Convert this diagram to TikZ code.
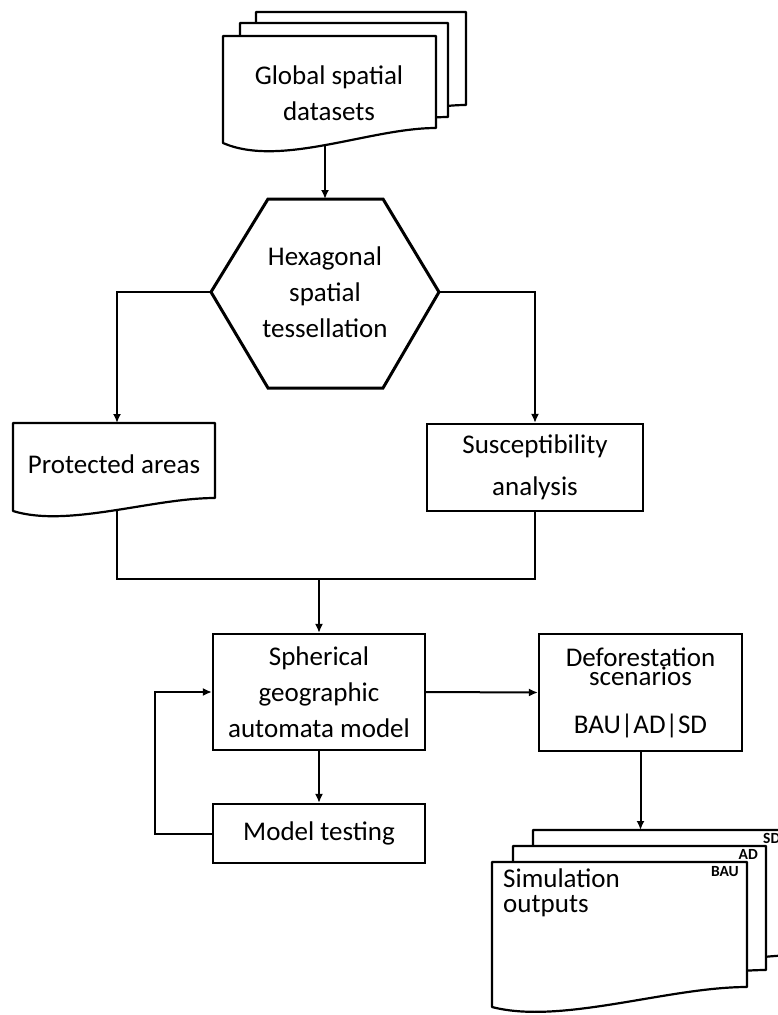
\documentclass[tikz,border=0pt]{standalone}
\usepackage{fontspec}
\setmainfont{Carlito}
\usetikzlibrary{arrows.meta,calc}

% wavy document outline: left, top, right, bottom-left, bottom-right, dip
\newcommand{\docshape}[6]{%
  \draw[docline] (#1,#2) -- (#3,#2) -- (#3,#5)
    .. controls ({#1+0.69*(#3-#1)},#5) and ({#1+0.27*(#3-#1)},{#4+#6}) .. (#1,#4) -- cycle;}

\begin{document}
\begin{tikzpicture}[x=1pt, y=-1pt, >={Latex[length=9pt,width=8pt]},
  every node/.style={font=\fontsize{27}{36}\selectfont, inner sep=0pt},
  docline/.style={line width=2.2pt, fill=white, line join=round},
  box/.style={draw, line width=2.2pt, align=center},
  conn/.style={line width=2pt},
  tag/.style={font=\bfseries\fontsize{15.5}{15.5}\selectfont}]
  \fill[white] (0,0) rectangle (777,1015);
  \useasboundingbox (0,0) rectangle (777,1015);

  % global spatial datasets
  \docshape{256}{12}{466}{120}{105}{25}
  \docshape{240}{23}{448}{132}{117}{25}
  \docshape{223}{36}{436}{143}{128}{25}
  \node[align=center] (gsd) at (329,93) {Global spatial\\datasets};
  \coordinate (gsd-b) at (325,146);

  % hexagon
  \coordinate (hex-n) at (325,199);
  \coordinate (hex-w) at (211,292);
  \coordinate (hex-e) at (439,292);
  \draw[line width=3pt, line join=miter] (268,199) -- (383,199) -- (hex-e) -- (383,388)
    -- (268,388) -- (hex-w) -- cycle;
  \node[align=center] (hex) at (325,292) {Hexagonal\\spatial\\tessellation};

  % protected areas
  \docshape{13}{423}{215}{511}{498}{17}
  \node (pa) at (114,464) {Protected areas};
  \coordinate (pa-t) at (117,423);
  \coordinate (pa-b) at (117,510);

  \node[box, minimum width=216pt, minimum height=87pt] (susc) at (535,467.5)
    {Susceptibility\\[6pt]analysis};

  \node[box, minimum width=212pt, minimum height=116pt] (sph) at (319,692)
    {Spherical\\geographic\\automata model};
  \node[box, minimum width=212pt, minimum height=59pt] (mt) at (319,833.5) {Model testing};
  \node[box, minimum width=203pt, minimum height=117pt] (defo) at (640.5,692.5)
    {Deforestation\\[-17pt]scenarios\\[12pt]BAU|AD|SD};
  \coordinate (join) at (319,579);

  % simulation outputs
  \docshape{533}{830}{800}{975}{955}{18}
  \docshape{513}{846}{766}{990}{970}{18}
  \docshape{492}{862}{747}{1007}{987}{18}
  \coordinate (so-t) at (640.5,830);
  \node[anchor=north west, align=left, font=\fontsize{27}{25}\selectfont] (simout) at (503,869)
    {Simulation\\outputs};
  \node[tag, anchor=base east] (lbau) at (739,876) {BAU};
  \node[tag, anchor=base east] (lad) at (758,859) {AD};
  \node[tag, anchor=base west] (lsd) at (763,843) {SD};

  \draw[conn, ->] (gsd-b) -- (hex-n);
  \draw[conn, ->] (hex-w) -| (pa-t);
  \draw[conn, ->] (hex-e) -| (susc.north);
  \draw[conn] (pa-b) |- (join) -| (susc.south);
  \draw[conn, ->] (join) -- (sph.north);
  \draw[conn, ->] (sph.south) -- (mt.north);
  \draw[conn, ->] (mt.west) -- ++(-57,0) |- (sph.west);
  \draw[conn, ->] (sph.east) -- (defo.west);
  \draw[conn, ->] (defo.south) -- (so-t);
\end{tikzpicture}
\end{document}
